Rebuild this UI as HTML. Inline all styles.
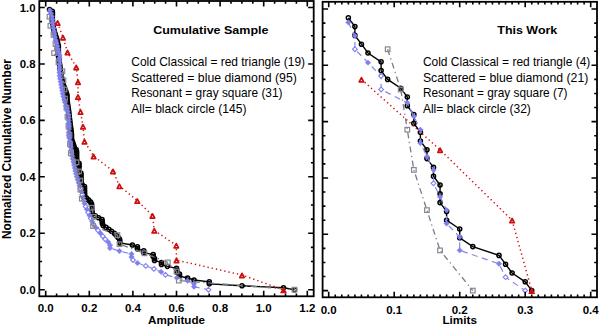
<!DOCTYPE html><html><head><meta charset="utf-8"><style>html,body{margin:0;padding:0;background:#fff;width:600px;height:328px;overflow:hidden}svg{display:block}</style></head><body><svg width="600" height="328" viewBox="0 0 600 328">
<style>.tl{font:bold 11.8px "Liberation Sans",sans-serif;fill:#000}.tt{font:bold 11.8px "Liberation Sans",sans-serif;fill:#000}.ax{font:bold 11.7px "Liberation Sans",sans-serif;fill:#000}.lg{font:13px "Liberation Sans",sans-serif;fill:#000}.df{fill:#8080f0;stroke:#7878ea;stroke-width:0.5}.do{fill:#fff;stroke:#8080ee;stroke-width:1.1}</style>
<rect width="600" height="328" fill="#fff"/>
<g>
<path d="M49.50 9.45L52.33 11.39L52.46 13.34L52.41 15.28L52.37 17.23L52.33 19.18L52.41 21.12L52.72 23.07L53.02 25.02L53.33 26.96L53.63 28.91L54.07 30.85L54.69 32.80L55.31 34.75L55.94 36.69L56.56 38.64L57.07 40.59L57.52 42.53L57.97 44.48L58.39 46.42L58.37 48.37L58.35 50.32L58.33 52.26L58.31 54.21L58.46 56.16L58.73 58.10L59.01 60.05L59.28 61.99L59.55 63.94L59.82 65.89L60.07 67.83L60.32 69.78L60.57 71.72L60.86 73.67L61.21 75.62L61.56 77.56L61.91 79.51L62.26 81.46L62.74 83.40L63.51 85.35L64.27 87.29L65.04 89.24L65.76 91.19L66.39 93.13L67.00 95.08L67.00 97.03L67.00 98.97L67.14 100.92L67.43 102.86L67.72 104.81L68.01 106.76L68.31 108.70L68.57 110.65L68.80 112.60L69.02 114.54L69.25 116.49L69.47 118.43L69.70 120.38L69.92 122.33L70.18 124.27L70.45 126.22L70.72 128.16L71.00 130.11L71.27 132.06L71.50 134.00L71.50 135.95L71.50 137.90L71.67 139.84L72.44 141.79L73.20 143.73L73.80 145.68L74.30 147.63L76.13 149.57L76.60 151.52L76.60 153.47L76.60 155.41L76.60 157.36L76.73 159.30L76.93 161.25L79.00 163.20L79.00 165.14L79.00 167.09L79.00 169.04L79.00 170.98L80.86 172.93L81.00 174.87L81.00 176.82L81.00 178.77L81.00 180.71L81.00 182.66L82.06 184.60L84.51 186.55L84.52 188.50L84.54 190.44L84.56 192.39L84.58 194.34L84.88 196.28L86.80 198.23L88.71 200.17L90.63 202.12L91.57 204.07L91.69 206.01L91.82 207.96L91.94 209.91L92.06 211.85L92.19 213.80L95.21 215.74L98.57 217.69L102.01 219.64L102.19 221.58L102.37 223.53L103.18 225.48L105.96 227.42L108.74 229.37L111.52 231.31L114.30 233.26L116.11 235.21L117.85 237.15L119.52 239.10L119.83 241.04L120.00 242.99L132.40 244.94L137.40 246.88L137.40 248.83L143.80 250.78L143.80 252.72L153.20 254.67L153.20 256.61L154.50 258.56L154.50 260.51L161.50 262.45L161.50 264.40L167.40 266.35L176.50 268.29L176.90 270.24L176.90 272.18L179.50 274.13L179.50 276.08L187.60 278.02L194.00 279.97L209.30 281.92L209.30 283.86L242.00 285.81L283.50 287.75L294.50 289.70" fill="none" stroke="#000" stroke-width="1.4"/>
<g fill="none" stroke="#000" stroke-width="1.5"><circle cx="49.50" cy="9.45" r="2.05"/><circle cx="52.33" cy="11.39" r="2.05"/><circle cx="52.46" cy="13.34" r="2.05"/><circle cx="52.41" cy="15.28" r="2.05"/><circle cx="52.37" cy="17.23" r="2.05"/><circle cx="52.33" cy="19.18" r="2.05"/><circle cx="52.41" cy="21.12" r="2.05"/><circle cx="52.72" cy="23.07" r="2.05"/><circle cx="53.02" cy="25.02" r="2.05"/><circle cx="53.33" cy="26.96" r="2.05"/><circle cx="53.63" cy="28.91" r="2.05"/><circle cx="54.07" cy="30.85" r="2.05"/><circle cx="54.69" cy="32.80" r="2.05"/><circle cx="55.31" cy="34.75" r="2.05"/><circle cx="55.94" cy="36.69" r="2.05"/><circle cx="56.56" cy="38.64" r="2.05"/><circle cx="57.07" cy="40.59" r="2.05"/><circle cx="57.52" cy="42.53" r="2.05"/><circle cx="57.97" cy="44.48" r="2.05"/><circle cx="58.39" cy="46.42" r="2.05"/><circle cx="58.37" cy="48.37" r="2.05"/><circle cx="58.35" cy="50.32" r="2.05"/><circle cx="58.33" cy="52.26" r="2.05"/><circle cx="58.31" cy="54.21" r="2.05"/><circle cx="58.46" cy="56.16" r="2.05"/><circle cx="58.73" cy="58.10" r="2.05"/><circle cx="59.01" cy="60.05" r="2.05"/><circle cx="59.28" cy="61.99" r="2.05"/><circle cx="59.55" cy="63.94" r="2.05"/><circle cx="59.82" cy="65.89" r="2.05"/><circle cx="60.07" cy="67.83" r="2.05"/><circle cx="60.32" cy="69.78" r="2.05"/><circle cx="60.57" cy="71.72" r="2.05"/><circle cx="60.86" cy="73.67" r="2.05"/><circle cx="61.21" cy="75.62" r="2.05"/><circle cx="61.56" cy="77.56" r="2.05"/><circle cx="61.91" cy="79.51" r="2.05"/><circle cx="62.26" cy="81.46" r="2.05"/><circle cx="62.74" cy="83.40" r="2.05"/><circle cx="63.51" cy="85.35" r="2.05"/><circle cx="64.27" cy="87.29" r="2.05"/><circle cx="65.04" cy="89.24" r="2.05"/><circle cx="65.76" cy="91.19" r="2.05"/><circle cx="66.39" cy="93.13" r="2.05"/><circle cx="67.00" cy="95.08" r="2.05"/><circle cx="67.00" cy="97.03" r="2.05"/><circle cx="67.00" cy="98.97" r="2.05"/><circle cx="67.14" cy="100.92" r="2.05"/><circle cx="67.43" cy="102.86" r="2.05"/><circle cx="67.72" cy="104.81" r="2.05"/><circle cx="68.01" cy="106.76" r="2.05"/><circle cx="68.31" cy="108.70" r="2.05"/><circle cx="68.57" cy="110.65" r="2.05"/><circle cx="68.80" cy="112.60" r="2.05"/><circle cx="69.02" cy="114.54" r="2.05"/><circle cx="69.25" cy="116.49" r="2.05"/><circle cx="69.47" cy="118.43" r="2.05"/><circle cx="69.70" cy="120.38" r="2.05"/><circle cx="69.92" cy="122.33" r="2.05"/><circle cx="70.18" cy="124.27" r="2.05"/><circle cx="70.45" cy="126.22" r="2.05"/><circle cx="70.72" cy="128.16" r="2.05"/><circle cx="71.00" cy="130.11" r="2.05"/><circle cx="71.27" cy="132.06" r="2.05"/><circle cx="71.50" cy="134.00" r="2.05"/><circle cx="71.50" cy="135.95" r="2.05"/><circle cx="71.50" cy="137.90" r="2.05"/><circle cx="71.67" cy="139.84" r="2.05"/><circle cx="72.44" cy="141.79" r="2.05"/><circle cx="73.20" cy="143.73" r="2.05"/><circle cx="73.80" cy="145.68" r="2.05"/><circle cx="74.30" cy="147.63" r="2.05"/><circle cx="76.13" cy="149.57" r="2.05"/><circle cx="76.60" cy="151.52" r="2.05"/><circle cx="76.60" cy="153.47" r="2.05"/><circle cx="76.60" cy="155.41" r="2.05"/><circle cx="76.60" cy="157.36" r="2.05"/><circle cx="76.73" cy="159.30" r="2.05"/><circle cx="76.93" cy="161.25" r="2.05"/><circle cx="79.00" cy="163.20" r="2.05"/><circle cx="79.00" cy="165.14" r="2.05"/><circle cx="79.00" cy="167.09" r="2.05"/><circle cx="79.00" cy="169.04" r="2.05"/><circle cx="79.00" cy="170.98" r="2.05"/><circle cx="80.86" cy="172.93" r="2.05"/><circle cx="81.00" cy="174.87" r="2.05"/><circle cx="81.00" cy="176.82" r="2.05"/><circle cx="81.00" cy="178.77" r="2.05"/><circle cx="81.00" cy="180.71" r="2.05"/><circle cx="81.00" cy="182.66" r="2.05"/><circle cx="82.06" cy="184.60" r="2.05"/><circle cx="84.51" cy="186.55" r="2.05"/><circle cx="84.52" cy="188.50" r="2.05"/><circle cx="84.54" cy="190.44" r="2.05"/><circle cx="84.56" cy="192.39" r="2.05"/><circle cx="84.58" cy="194.34" r="2.05"/><circle cx="84.88" cy="196.28" r="2.05"/><circle cx="86.80" cy="198.23" r="2.05"/><circle cx="88.71" cy="200.17" r="2.05"/><circle cx="90.63" cy="202.12" r="2.05"/><circle cx="91.57" cy="204.07" r="2.05"/><circle cx="91.69" cy="206.01" r="2.05"/><circle cx="91.82" cy="207.96" r="2.05"/><circle cx="91.94" cy="209.91" r="2.05"/><circle cx="92.06" cy="211.85" r="2.05"/><circle cx="92.19" cy="213.80" r="2.05"/><circle cx="95.21" cy="215.74" r="2.05"/><circle cx="98.57" cy="217.69" r="2.05"/><circle cx="102.01" cy="219.64" r="2.05"/><circle cx="102.19" cy="221.58" r="2.05"/><circle cx="102.37" cy="223.53" r="2.05"/><circle cx="103.18" cy="225.48" r="2.05"/><circle cx="105.96" cy="227.42" r="2.05"/><circle cx="108.74" cy="229.37" r="2.05"/><circle cx="111.52" cy="231.31" r="2.05"/><circle cx="114.30" cy="233.26" r="2.05"/><circle cx="116.11" cy="235.21" r="2.05"/><circle cx="117.85" cy="237.15" r="2.05"/><circle cx="119.52" cy="239.10" r="2.05"/><circle cx="119.83" cy="241.04" r="2.05"/><circle cx="120.00" cy="242.99" r="2.05"/><circle cx="132.40" cy="244.94" r="2.05"/><circle cx="137.40" cy="246.88" r="2.05"/><circle cx="137.40" cy="248.83" r="2.05"/><circle cx="143.80" cy="250.78" r="2.05"/><circle cx="143.80" cy="252.72" r="2.05"/><circle cx="153.20" cy="254.67" r="2.05"/><circle cx="153.20" cy="256.61" r="2.05"/><circle cx="154.50" cy="258.56" r="2.05"/><circle cx="154.50" cy="260.51" r="2.05"/><circle cx="161.50" cy="262.45" r="2.05"/><circle cx="161.50" cy="264.40" r="2.05"/><circle cx="167.40" cy="266.35" r="2.05"/><circle cx="176.50" cy="268.29" r="2.05"/><circle cx="176.90" cy="270.24" r="2.05"/><circle cx="176.90" cy="272.18" r="2.05"/><circle cx="179.50" cy="274.13" r="2.05"/><circle cx="179.50" cy="276.08" r="2.05"/><circle cx="187.60" cy="278.02" r="2.05"/><circle cx="194.00" cy="279.97" r="2.05"/><circle cx="209.30" cy="281.92" r="2.05"/><circle cx="209.30" cy="283.86" r="2.05"/><circle cx="242.00" cy="285.81" r="2.05"/><circle cx="283.50" cy="287.75" r="2.05"/><circle cx="294.50" cy="289.70" r="2.05"/></g>
<g fill="none" stroke="#878794" stroke-width="1.2"><rect x="47.20" y="14.40" width="4.60" height="4.60"/><rect x="48.10" y="23.50" width="4.60" height="4.60"/><rect x="51.20" y="32.60" width="4.60" height="4.60"/><rect x="53.20" y="41.70" width="4.60" height="4.60"/><rect x="51.80" y="50.80" width="4.60" height="4.60"/><rect x="56.20" y="59.90" width="4.60" height="4.60"/><rect x="60.10" y="69.00" width="4.60" height="4.60"/><rect x="61.20" y="78.10" width="4.60" height="4.60"/><rect x="62.20" y="87.20" width="4.60" height="4.60"/><rect x="62.70" y="96.30" width="4.60" height="4.60"/><rect x="64.20" y="105.40" width="4.60" height="4.60"/><rect x="65.20" y="114.50" width="4.60" height="4.60"/><rect x="66.20" y="123.60" width="4.60" height="4.60"/><rect x="67.20" y="132.70" width="4.60" height="4.60"/><rect x="67.70" y="141.80" width="4.60" height="4.60"/></g>
<path d="M50.00 10.47L51.07 13.44L52.05 16.41L52.43 19.38L52.80 22.35L53.18 25.32L53.55 28.29L53.93 31.26L54.30 34.23L54.96 37.21L55.72 40.18L56.48 43.15L57.23 46.12L57.99 49.09L58.75 52.06L59.50 55.03L59.50 58.00L59.50 60.97L59.50 63.94L59.50 66.91L59.50 69.88L59.50 72.85L59.64 75.82L60.16 78.79L60.68 81.76L61.20 84.73L61.72 87.70L62.24 90.67L62.76 93.65L63.44 96.62L64.26 99.59L65.08 102.56L65.90 105.53L66.71 108.50L67.53 111.47L68.35 114.44L68.56 117.41L68.63 120.38L68.71 123.35L68.78 126.32L68.86 129.29L68.93 132.26L69.03 135.23L69.48 138.20L69.93 141.17L70.37 144.14L70.82 147.11L71.26 150.09L71.71 153.06L72.22 156.03L72.86 159.00L73.50 161.97L74.14 164.94L74.78 167.91L75.41 170.88L76.05 173.85L76.86 176.82L77.79 179.79L78.71 182.76L79.63 185.73L80.55 188.70L81.47 191.67L82.27 194.64L83.05 197.61L83.83 200.58L84.62 203.55L85.66 206.53L86.96 209.50L88.25 212.47L89.54 215.44L90.83 218.41L92.12 221.38L93.42 224.35L95.58 227.32L97.99 230.29L100.40 233.26L102.82 236.23L105.23 239.20L108.31 242.17L110.00 245.14L110.00 248.11L119.50 251.08L131.50 254.05L131.50 257.02L133.00 259.99L137.40 262.97L145.80 265.94L154.00 268.91L161.10 271.88L165.40 274.85L176.80 277.82L187.60 280.79L194.00 283.76L194.00 286.73L208.50 289.70" fill="none" stroke="#8686f0" stroke-width="1.2" stroke-dasharray="6 4.5"/>
<g><path d="M50.00 7.77L52.70 10.47L50.00 13.17L47.30 10.47Z" class="df"/><path d="M51.07 10.74L53.77 13.44L51.07 16.14L48.37 13.44Z" class="df"/><path d="M52.05 13.71L54.75 16.41L52.05 19.11L49.35 16.41Z" class="df"/><path d="M52.43 16.68L55.13 19.38L52.43 22.08L49.73 19.38Z" class="df"/><path d="M52.80 19.65L55.50 22.35L52.80 25.05L50.10 22.35Z" class="df"/><path d="M53.18 22.62L55.88 25.32L53.18 28.02L50.48 25.32Z" class="df"/><path d="M53.55 25.59L56.25 28.29L53.55 30.99L50.85 28.29Z" class="df"/><path d="M53.93 28.56L56.63 31.26L53.93 33.96L51.23 31.26Z" class="df"/><path d="M54.30 31.53L57.00 34.23L54.30 36.93L51.60 34.23Z" class="df"/><path d="M54.96 34.51L57.66 37.21L54.96 39.91L52.26 37.21Z" class="df"/><path d="M55.72 37.48L58.42 40.18L55.72 42.88L53.02 40.18Z" class="df"/><path d="M56.48 40.45L59.18 43.15L56.48 45.85L53.78 43.15Z" class="df"/><path d="M57.23 43.42L59.93 46.12L57.23 48.82L54.53 46.12Z" class="df"/><path d="M57.99 46.39L60.69 49.09L57.99 51.79L55.29 49.09Z" class="df"/><path d="M58.75 49.36L61.45 52.06L58.75 54.76L56.05 52.06Z" class="df"/><path d="M59.50 52.33L62.20 55.03L59.50 57.73L56.80 55.03Z" class="df"/><path d="M59.50 55.30L62.20 58.00L59.50 60.70L56.80 58.00Z" class="df"/><path d="M59.50 58.27L62.20 60.97L59.50 63.67L56.80 60.97Z" class="df"/><path d="M59.50 61.24L62.20 63.94L59.50 66.64L56.80 63.94Z" class="df"/><path d="M59.50 64.21L62.20 66.91L59.50 69.61L56.80 66.91Z" class="df"/><path d="M59.50 67.18L62.20 69.88L59.50 72.58L56.80 69.88Z" class="df"/><path d="M59.50 70.15L62.20 72.85L59.50 75.55L56.80 72.85Z" class="df"/><path d="M59.64 73.12L62.34 75.82L59.64 78.52L56.94 75.82Z" class="df"/><path d="M60.16 76.09L62.86 78.79L60.16 81.49L57.46 78.79Z" class="df"/><path d="M60.68 79.06L63.38 81.76L60.68 84.46L57.98 81.76Z" class="df"/><path d="M61.20 82.03L63.90 84.73L61.20 87.43L58.50 84.73Z" class="df"/><path d="M61.72 85.00L64.42 87.70L61.72 90.40L59.02 87.70Z" class="df"/><path d="M62.24 87.97L64.94 90.67L62.24 93.37L59.54 90.67Z" class="df"/><path d="M62.76 90.95L65.46 93.65L62.76 96.35L60.06 93.65Z" class="df"/><path d="M63.44 93.92L66.14 96.62L63.44 99.32L60.74 96.62Z" class="df"/><path d="M64.26 96.89L66.96 99.59L64.26 102.29L61.56 99.59Z" class="df"/><path d="M65.08 99.86L67.78 102.56L65.08 105.26L62.38 102.56Z" class="df"/><path d="M65.90 102.83L68.60 105.53L65.90 108.23L63.20 105.53Z" class="df"/><path d="M66.71 105.80L69.41 108.50L66.71 111.20L64.01 108.50Z" class="df"/><path d="M67.53 108.77L70.23 111.47L67.53 114.17L64.83 111.47Z" class="df"/><path d="M68.35 111.74L71.05 114.44L68.35 117.14L65.65 114.44Z" class="df"/><path d="M68.56 114.71L71.26 117.41L68.56 120.11L65.86 117.41Z" class="df"/><path d="M68.63 117.68L71.33 120.38L68.63 123.08L65.93 120.38Z" class="df"/><path d="M68.71 120.65L71.41 123.35L68.71 126.05L66.01 123.35Z" class="df"/><path d="M68.78 123.62L71.48 126.32L68.78 129.02L66.08 126.32Z" class="df"/><path d="M68.86 126.59L71.56 129.29L68.86 131.99L66.16 129.29Z" class="df"/><path d="M68.93 129.56L71.63 132.26L68.93 134.96L66.23 132.26Z" class="df"/><path d="M69.03 132.53L71.73 135.23L69.03 137.93L66.33 135.23Z" class="df"/><path d="M69.48 135.50L72.18 138.20L69.48 140.90L66.78 138.20Z" class="df"/><path d="M69.93 138.47L72.63 141.17L69.93 143.87L67.23 141.17Z" class="df"/><path d="M70.37 141.44L73.07 144.14L70.37 146.84L67.67 144.14Z" class="df"/><path d="M70.82 144.41L73.52 147.11L70.82 149.81L68.12 147.11Z" class="df"/><path d="M71.26 147.39L73.96 150.09L71.26 152.79L68.56 150.09Z" class="df"/><path d="M71.71 150.36L74.41 153.06L71.71 155.76L69.01 153.06Z" class="df"/><path d="M72.22 153.33L74.92 156.03L72.22 158.73L69.52 156.03Z" class="df"/><path d="M72.86 156.30L75.56 159.00L72.86 161.70L70.16 159.00Z" class="df"/><path d="M73.50 159.27L76.20 161.97L73.50 164.67L70.80 161.97Z" class="df"/><path d="M74.14 162.24L76.84 164.94L74.14 167.64L71.44 164.94Z" class="df"/><path d="M74.78 165.21L77.48 167.91L74.78 170.61L72.08 167.91Z" class="df"/><path d="M75.41 168.18L78.11 170.88L75.41 173.58L72.71 170.88Z" class="df"/><path d="M76.05 171.15L78.75 173.85L76.05 176.55L73.35 173.85Z" class="df"/><path d="M76.86 174.12L79.56 176.82L76.86 179.52L74.16 176.82Z" class="df"/><path d="M77.79 177.09L80.49 179.79L77.79 182.49L75.09 179.79Z" class="df"/><path d="M78.71 180.06L81.41 182.76L78.71 185.46L76.01 182.76Z" class="df"/><path d="M79.63 183.03L82.33 185.73L79.63 188.43L76.93 185.73Z" class="df"/><path d="M80.55 186.30L82.95 188.70L80.55 191.10L78.15 188.70Z" class="do"/><path d="M81.47 188.97L84.17 191.67L81.47 194.37L78.77 191.67Z" class="df"/><path d="M82.27 192.24L84.67 194.64L82.27 197.04L79.87 194.64Z" class="do"/><path d="M83.05 194.91L85.75 197.61L83.05 200.31L80.35 197.61Z" class="df"/><path d="M83.83 198.18L86.23 200.58L83.83 202.98L81.43 200.58Z" class="do"/><path d="M84.62 200.85L87.32 203.55L84.62 206.25L81.92 203.55Z" class="df"/><path d="M85.66 204.13L88.06 206.53L85.66 208.93L83.26 206.53Z" class="do"/><path d="M86.96 206.80L89.66 209.50L86.96 212.20L84.26 209.50Z" class="df"/><path d="M88.25 210.07L90.65 212.47L88.25 214.87L85.85 212.47Z" class="do"/><path d="M89.54 212.74L92.24 215.44L89.54 218.14L86.84 215.44Z" class="df"/><path d="M90.83 216.01L93.23 218.41L90.83 220.81L88.43 218.41Z" class="do"/><path d="M92.12 218.68L94.82 221.38L92.12 224.08L89.42 221.38Z" class="df"/><path d="M93.42 221.95L95.82 224.35L93.42 226.75L91.02 224.35Z" class="do"/><path d="M95.58 224.62L98.28 227.32L95.58 230.02L92.88 227.32Z" class="df"/><path d="M97.99 227.89L100.39 230.29L97.99 232.69L95.59 230.29Z" class="do"/><path d="M100.40 230.56L103.10 233.26L100.40 235.96L97.70 233.26Z" class="df"/><path d="M102.82 233.83L105.22 236.23L102.82 238.63L100.42 236.23Z" class="do"/><path d="M105.23 236.80L107.63 239.20L105.23 241.60L102.83 239.20Z" class="do"/><path d="M108.31 239.47L111.01 242.17L108.31 244.87L105.61 242.17Z" class="df"/><path d="M110.00 242.44L112.70 245.14L110.00 247.84L107.30 245.14Z" class="df"/><path d="M110.00 245.41L112.70 248.11L110.00 250.81L107.30 248.11Z" class="df"/><path d="M119.50 248.38L122.20 251.08L119.50 253.78L116.80 251.08Z" class="df"/><path d="M131.50 251.35L134.20 254.05L131.50 256.75L128.80 254.05Z" class="df"/><path d="M131.50 254.32L134.20 257.02L131.50 259.72L128.80 257.02Z" class="df"/><path d="M133.00 257.59L135.40 259.99L133.00 262.39L130.60 259.99Z" class="do"/><path d="M137.40 260.27L140.10 262.97L137.40 265.67L134.70 262.97Z" class="df"/><path d="M145.80 263.54L148.20 265.94L145.80 268.34L143.40 265.94Z" class="do"/><path d="M154.00 266.51L156.40 268.91L154.00 271.31L151.60 268.91Z" class="do"/><path d="M161.10 269.18L163.80 271.88L161.10 274.58L158.40 271.88Z" class="df"/><path d="M165.40 272.45L167.80 274.85L165.40 277.25L163.00 274.85Z" class="do"/><path d="M176.80 275.12L179.50 277.82L176.80 280.52L174.10 277.82Z" class="df"/><path d="M187.60 278.09L190.30 280.79L187.60 283.49L184.90 280.79Z" class="df"/><path d="M194.00 281.06L196.70 283.76L194.00 286.46L191.30 283.76Z" class="df"/><path d="M194.00 284.03L196.70 286.73L194.00 289.43L191.30 286.73Z" class="df"/><path d="M208.50 287.30L210.90 289.70L208.50 292.10L206.10 289.70Z" class="do"/></g>
<path d="M49.50 16.70L50.40 25.80L53.50 34.90L55.50 44.00L54.10 53.10L58.50 62.20L62.40 71.30L63.50 80.40L64.50 89.50L65.00 98.60L66.50 107.70L67.50 116.80L68.50 125.90L69.50 135.00L70.00 144.10L70.80 153.20L76.50 162.30L79.00 171.40L80.00 180.50L80.40 189.60L81.80 198.70L91.80 207.80L93.80 216.90L93.10 226.00L117.40 235.10L119.50 244.20L144.50 253.30L167.80 262.40L176.50 271.50L178.80 280.60L294.50 289.70" fill="none" stroke="#7c7c88" stroke-width="1.3" stroke-dasharray="6 3.5 1.3 3.5"/>
<g fill="none" stroke="#878794" stroke-width="1.2"><rect x="68.50" y="150.90" width="4.60" height="4.60"/><rect x="74.20" y="160.00" width="4.60" height="4.60"/><rect x="76.70" y="169.10" width="4.60" height="4.60"/><rect x="77.70" y="178.20" width="4.60" height="4.60"/><rect x="78.10" y="187.30" width="4.60" height="4.60"/><rect x="79.50" y="196.40" width="4.60" height="4.60"/><rect x="89.50" y="205.50" width="4.60" height="4.60"/><rect x="91.50" y="214.60" width="4.60" height="4.60"/><rect x="90.80" y="223.70" width="4.60" height="4.60"/><rect x="115.10" y="232.80" width="4.60" height="4.60"/><rect x="117.20" y="241.90" width="4.60" height="4.60"/><rect x="142.20" y="251.00" width="4.60" height="4.60"/><rect x="165.50" y="260.10" width="4.60" height="4.60"/><rect x="174.20" y="269.20" width="4.60" height="4.60"/><rect x="176.50" y="278.30" width="4.60" height="4.60"/><rect x="292.20" y="287.40" width="4.60" height="4.60"/></g>
<path d="M57.60 22.60L63.00 37.30L67.50 52.10L76.20 67.00L78.00 81.80L78.00 96.70L80.50 111.60L83.00 126.40L84.50 141.30L93.60 156.10L113.00 171.00L119.40 185.80L137.30 200.70L152.50 215.50L154.30 230.40L176.30 245.30L176.50 260.10L242.00 275.00L283.50 289.90" fill="none" stroke="#d01010" stroke-width="1.5" stroke-dasharray="1.3 3" />
<g fill="#fff" stroke="#cc1010" stroke-width="1.75" stroke-linejoin="round"><path d="M57.60 20.90L59.80 25.10L55.40 25.10Z"/><path d="M63.00 35.60L65.20 39.80L60.80 39.80Z"/><path d="M67.50 50.40L69.70 54.60L65.30 54.60Z"/><path d="M76.20 65.30L78.40 69.50L74.00 69.50Z"/><path d="M78.00 80.10L80.20 84.30L75.80 84.30Z"/><path d="M78.00 95.00L80.20 99.20L75.80 99.20Z"/><path d="M80.50 109.90L82.70 114.10L78.30 114.10Z"/><path d="M83.00 124.70L85.20 128.90L80.80 128.90Z"/><path d="M84.50 139.60L86.70 143.80L82.30 143.80Z"/><path d="M93.60 154.40L95.80 158.60L91.40 158.60Z"/><path d="M113.00 169.30L115.20 173.50L110.80 173.50Z"/><path d="M119.40 184.10L121.60 188.30L117.20 188.30Z"/><path d="M137.30 199.00L139.50 203.20L135.10 203.20Z"/><path d="M152.50 213.80L154.70 218.00L150.30 218.00Z"/><path d="M154.30 228.70L156.50 232.90L152.10 232.90Z"/><path d="M176.30 243.60L178.50 247.80L174.10 247.80Z"/><path d="M176.50 258.40L178.70 262.60L174.30 262.60Z"/><path d="M242.00 273.30L244.20 277.50L239.80 277.50Z"/></g>
<g fill="#d01010" stroke="#cc1010" stroke-width="1.6"><path d="M283.50 288.20L285.70 292.40L281.30 292.40Z"/></g>
</g>
<path d="M348.35 17.80L354.90 26.60L354.90 35.40L361.45 44.20L368.00 53.00L381.10 61.80L381.10 70.60L387.65 79.40L400.75 88.20L407.30 97.00L407.30 105.80L413.85 114.60L413.85 123.40L420.40 132.20L420.40 141.00L426.95 149.80L426.95 158.60L433.50 167.40L433.50 176.20L440.05 185.00L440.05 193.80L440.05 202.60L446.60 211.40L446.60 220.20L459.70 229.00L459.70 237.80L472.80 246.60L499.00 255.40L505.55 264.20L512.10 273.00L525.20 281.80L531.75 290.60" fill="none" stroke="#000" stroke-width="1.4"/>
<g fill="none" stroke="#000" stroke-width="1.5"><circle cx="348.35" cy="17.80" r="2.05"/><circle cx="354.90" cy="26.60" r="2.05"/><circle cx="354.90" cy="35.40" r="2.05"/><circle cx="361.45" cy="44.20" r="2.05"/><circle cx="368.00" cy="53.00" r="2.05"/><circle cx="381.10" cy="61.80" r="2.05"/><circle cx="381.10" cy="70.60" r="2.05"/><circle cx="387.65" cy="79.40" r="2.05"/><circle cx="400.75" cy="88.20" r="2.05"/><circle cx="407.30" cy="97.00" r="2.05"/><circle cx="407.30" cy="105.80" r="2.05"/><circle cx="413.85" cy="114.60" r="2.05"/><circle cx="413.85" cy="123.40" r="2.05"/><circle cx="420.40" cy="132.20" r="2.05"/><circle cx="420.40" cy="141.00" r="2.05"/><circle cx="426.95" cy="149.80" r="2.05"/><circle cx="426.95" cy="158.60" r="2.05"/><circle cx="433.50" cy="167.40" r="2.05"/><circle cx="433.50" cy="176.20" r="2.05"/><circle cx="440.05" cy="185.00" r="2.05"/><circle cx="440.05" cy="193.80" r="2.05"/><circle cx="440.05" cy="202.60" r="2.05"/><circle cx="446.60" cy="211.40" r="2.05"/><circle cx="446.60" cy="220.20" r="2.05"/><circle cx="459.70" cy="229.00" r="2.05"/><circle cx="459.70" cy="237.80" r="2.05"/><circle cx="472.80" cy="246.60" r="2.05"/><circle cx="499.00" cy="255.40" r="2.05"/><circle cx="505.55" cy="264.20" r="2.05"/><circle cx="512.10" cy="273.00" r="2.05"/><circle cx="525.20" cy="281.80" r="2.05"/><circle cx="531.75" cy="290.60" r="2.05"/></g>
<g fill="none" stroke="#878794" stroke-width="1.2"></g>
<path d="M348.35 22.41L354.90 35.82L354.90 49.23L368.00 62.64L381.10 76.05L381.10 89.46L407.30 102.87L413.85 116.28L420.40 129.69L420.40 143.10L426.95 156.50L433.50 169.91L433.50 183.32L440.05 196.73L446.60 210.14L446.60 223.55L459.70 236.96L459.70 250.37L499.00 263.78L505.55 277.19L525.20 290.60" fill="none" stroke="#8686f0" stroke-width="1.2" stroke-dasharray="6 4.5"/>
<g><path d="M348.35 19.71L351.05 22.41L348.35 25.11L345.65 22.41Z" class="df"/><path d="M354.90 33.12L357.60 35.82L354.90 38.52L352.20 35.82Z" class="df"/><path d="M354.90 46.83L357.30 49.23L354.90 51.63L352.50 49.23Z" class="do"/><path d="M368.00 59.94L370.70 62.64L368.00 65.34L365.30 62.64Z" class="df"/><path d="M381.10 73.65L383.50 76.05L381.10 78.45L378.70 76.05Z" class="do"/><path d="M381.10 87.06L383.50 89.46L381.10 91.86L378.70 89.46Z" class="do"/><path d="M407.30 100.17L410.00 102.87L407.30 105.57L404.60 102.87Z" class="df"/><path d="M413.85 113.58L416.55 116.28L413.85 118.98L411.15 116.28Z" class="df"/><path d="M420.40 126.99L423.10 129.69L420.40 132.39L417.70 129.69Z" class="df"/><path d="M420.40 140.40L423.10 143.10L420.40 145.80L417.70 143.10Z" class="df"/><path d="M426.95 153.80L429.65 156.50L426.95 159.20L424.25 156.50Z" class="df"/><path d="M433.50 167.21L436.20 169.91L433.50 172.61L430.80 169.91Z" class="df"/><path d="M433.50 180.92L435.90 183.32L433.50 185.72L431.10 183.32Z" class="do"/><path d="M440.05 194.03L442.75 196.73L440.05 199.43L437.35 196.73Z" class="df"/><path d="M446.60 207.44L449.30 210.14L446.60 212.84L443.90 210.14Z" class="df"/><path d="M446.60 220.85L449.30 223.55L446.60 226.25L443.90 223.55Z" class="df"/><path d="M459.70 234.26L462.40 236.96L459.70 239.66L457.00 236.96Z" class="df"/><path d="M459.70 247.67L462.40 250.37L459.70 253.07L457.00 250.37Z" class="df"/><path d="M499.00 261.08L501.70 263.78L499.00 266.48L496.30 263.78Z" class="df"/><path d="M505.55 274.79L507.95 277.19L505.55 279.59L503.15 277.19Z" class="do"/><path d="M525.20 288.20L527.60 290.60L525.20 293.00L522.80 290.60Z" class="do"/></g>
<path d="M387.65 49.23L400.75 89.46L407.30 129.69L413.85 169.91L426.95 210.14L440.05 250.37L472.80 290.60" fill="none" stroke="#7c7c88" stroke-width="1.3" stroke-dasharray="6 3.5 1.3 3.5"/>
<g fill="none" stroke="#878794" stroke-width="1.2"><rect x="385.35" y="46.93" width="4.60" height="4.60"/><rect x="398.45" y="87.16" width="4.60" height="4.60"/><rect x="405.00" y="127.39" width="4.60" height="4.60"/><rect x="411.55" y="167.61" width="4.60" height="4.60"/><rect x="424.65" y="207.84" width="4.60" height="4.60"/><rect x="437.75" y="248.07" width="4.60" height="4.60"/><rect x="470.50" y="288.30" width="4.60" height="4.60"/></g>
<path d="M361.45 79.40L440.05 149.80L512.10 220.20L531.75 290.60" fill="none" stroke="#d01010" stroke-width="1.5" stroke-dasharray="1.3 3" />
<g fill="#fff" stroke="#cc1010" stroke-width="1.75" stroke-linejoin="round"><path d="M361.45 77.70L363.65 81.90L359.25 81.90Z"/><path d="M440.05 148.10L442.25 152.30L437.85 152.30Z"/><path d="M512.10 218.50L514.30 222.70L509.90 222.70Z"/></g>
<g fill="#d01010" stroke="#cc1010" stroke-width="1.6"><path d="M531.75 288.90L533.95 293.10L529.55 293.10Z"/></g>
<rect x="39.30" y="1.00" width="274.40" height="295.30" fill="none" stroke="#000" stroke-width="1.8"/>
<path d="M45.70 296.30V290.80M45.70 1.00V6.50M56.60 296.30V293.50M56.60 1.00V3.80M67.50 296.30V293.50M67.50 1.00V3.80M78.40 296.30V293.50M78.40 1.00V3.80M89.30 296.30V290.80M89.30 1.00V6.50M100.20 296.30V293.50M100.20 1.00V3.80M111.10 296.30V293.50M111.10 1.00V3.80M122.00 296.30V293.50M122.00 1.00V3.80M132.90 296.30V290.80M132.90 1.00V6.50M143.80 296.30V293.50M143.80 1.00V3.80M154.70 296.30V293.50M154.70 1.00V3.80M165.60 296.30V293.50M165.60 1.00V3.80M176.50 296.30V290.80M176.50 1.00V6.50M187.40 296.30V293.50M187.40 1.00V3.80M198.30 296.30V293.50M198.30 1.00V3.80M209.20 296.30V293.50M209.20 1.00V3.80M220.10 296.30V290.80M220.10 1.00V6.50M231.00 296.30V293.50M231.00 1.00V3.80M241.90 296.30V293.50M241.90 1.00V3.80M252.80 296.30V293.50M252.80 1.00V3.80M263.70 296.30V290.80M263.70 1.00V6.50M274.60 296.30V293.50M274.60 1.00V3.80M285.50 296.30V293.50M285.50 1.00V3.80M296.40 296.30V293.50M296.40 1.00V3.80M307.30 296.30V290.80M307.30 1.00V6.50M39.30 289.70H44.80M313.70 289.70H308.20M39.30 275.59H42.10M313.70 275.59H310.90M39.30 261.48H42.10M313.70 261.48H310.90M39.30 247.37H42.10M313.70 247.37H310.90M39.30 233.26H44.80M313.70 233.26H308.20M39.30 219.15H42.10M313.70 219.15H310.90M39.30 205.04H42.10M313.70 205.04H310.90M39.30 190.93H42.10M313.70 190.93H310.90M39.30 176.82H44.80M313.70 176.82H308.20M39.30 162.71H42.10M313.70 162.71H310.90M39.30 148.60H42.10M313.70 148.60H310.90M39.30 134.49H42.10M313.70 134.49H310.90M39.30 120.38H44.80M313.70 120.38H308.20M39.30 106.27H42.10M313.70 106.27H310.90M39.30 92.16H42.10M313.70 92.16H310.90M39.30 78.05H42.10M313.70 78.05H310.90M39.30 63.94H44.80M313.70 63.94H308.20M39.30 49.83H42.10M313.70 49.83H310.90M39.30 35.72H42.10M313.70 35.72H310.90M39.30 21.61H42.10M313.70 21.61H310.90M39.30 7.50H44.80M313.70 7.50H308.20" stroke="#000" stroke-width="1.6" fill="none"/>
<text x="37.70" y="311.70" class="tl" textLength="16" lengthAdjust="spacingAndGlyphs">0.0</text>
<text x="81.30" y="311.70" class="tl" textLength="16" lengthAdjust="spacingAndGlyphs">0.2</text>
<text x="124.90" y="311.70" class="tl" textLength="16" lengthAdjust="spacingAndGlyphs">0.4</text>
<text x="168.50" y="311.70" class="tl" textLength="16" lengthAdjust="spacingAndGlyphs">0.6</text>
<text x="212.10" y="311.70" class="tl" textLength="16" lengthAdjust="spacingAndGlyphs">0.8</text>
<text x="255.70" y="311.70" class="tl" textLength="16" lengthAdjust="spacingAndGlyphs">1.0</text>
<text x="299.30" y="311.70" class="tl" textLength="16" lengthAdjust="spacingAndGlyphs">1.2</text>
<text x="19.8" y="293.80" class="tl" textLength="15.8" lengthAdjust="spacingAndGlyphs">0.0</text>
<text x="19.8" y="237.36" class="tl" textLength="15.8" lengthAdjust="spacingAndGlyphs">0.2</text>
<text x="19.8" y="180.92" class="tl" textLength="15.8" lengthAdjust="spacingAndGlyphs">0.4</text>
<text x="19.8" y="124.48" class="tl" textLength="15.8" lengthAdjust="spacingAndGlyphs">0.6</text>
<text x="19.8" y="68.04" class="tl" textLength="15.8" lengthAdjust="spacingAndGlyphs">0.8</text>
<text x="19.8" y="11.60" class="tl" textLength="15.8" lengthAdjust="spacingAndGlyphs">1.0</text>
<rect x="322.60" y="1.80" width="274.40" height="295.50" fill="none" stroke="#000" stroke-width="1.8"/>
<path d="M328.70 297.30V291.80M328.70 1.80V7.30M335.25 297.30V294.50M335.25 1.80V4.60M341.80 297.30V294.50M341.80 1.80V4.60M348.35 297.30V294.50M348.35 1.80V4.60M354.90 297.30V294.50M354.90 1.80V4.60M361.45 297.30V294.50M361.45 1.80V4.60M368.00 297.30V294.50M368.00 1.80V4.60M374.55 297.30V294.50M374.55 1.80V4.60M381.10 297.30V294.50M381.10 1.80V4.60M387.65 297.30V294.50M387.65 1.80V4.60M394.20 297.30V291.80M394.20 1.80V7.30M400.75 297.30V294.50M400.75 1.80V4.60M407.30 297.30V294.50M407.30 1.80V4.60M413.85 297.30V294.50M413.85 1.80V4.60M420.40 297.30V294.50M420.40 1.80V4.60M426.95 297.30V294.50M426.95 1.80V4.60M433.50 297.30V294.50M433.50 1.80V4.60M440.05 297.30V294.50M440.05 1.80V4.60M446.60 297.30V294.50M446.60 1.80V4.60M453.15 297.30V294.50M453.15 1.80V4.60M459.70 297.30V291.80M459.70 1.80V7.30M466.25 297.30V294.50M466.25 1.80V4.60M472.80 297.30V294.50M472.80 1.80V4.60M479.35 297.30V294.50M479.35 1.80V4.60M485.90 297.30V294.50M485.90 1.80V4.60M492.45 297.30V294.50M492.45 1.80V4.60M499.00 297.30V294.50M499.00 1.80V4.60M505.55 297.30V294.50M505.55 1.80V4.60M512.10 297.30V294.50M512.10 1.80V4.60M518.65 297.30V294.50M518.65 1.80V4.60M525.20 297.30V291.80M525.20 1.80V7.30M531.75 297.30V294.50M531.75 1.80V4.60M538.30 297.30V294.50M538.30 1.80V4.60M544.85 297.30V294.50M544.85 1.80V4.60M551.40 297.30V294.50M551.40 1.80V4.60M557.95 297.30V294.50M557.95 1.80V4.60M564.50 297.30V294.50M564.50 1.80V4.60M571.05 297.30V294.50M571.05 1.80V4.60M577.60 297.30V294.50M577.60 1.80V4.60M584.15 297.30V294.50M584.15 1.80V4.60M590.70 297.30V291.80M590.70 1.80V7.30M322.60 290.60H328.10M597.00 290.60H591.50M322.60 276.52H325.40M597.00 276.52H594.20M322.60 262.44H325.40M597.00 262.44H594.20M322.60 248.36H325.40M597.00 248.36H594.20M322.60 234.28H328.10M597.00 234.28H591.50M322.60 220.20H325.40M597.00 220.20H594.20M322.60 206.12H325.40M597.00 206.12H594.20M322.60 192.04H325.40M597.00 192.04H594.20M322.60 177.96H328.10M597.00 177.96H591.50M322.60 163.88H325.40M597.00 163.88H594.20M322.60 149.80H325.40M597.00 149.80H594.20M322.60 135.72H325.40M597.00 135.72H594.20M322.60 121.64H328.10M597.00 121.64H591.50M322.60 107.56H325.40M597.00 107.56H594.20M322.60 93.48H325.40M597.00 93.48H594.20M322.60 79.40H325.40M597.00 79.40H594.20M322.60 65.32H328.10M597.00 65.32H591.50M322.60 51.24H325.40M597.00 51.24H594.20M322.60 37.16H325.40M597.00 37.16H594.20M322.60 23.08H325.40M597.00 23.08H594.20M322.60 9.00H328.10M597.00 9.00H591.50" stroke="#000" stroke-width="1.6" fill="none"/>
<text x="320.70" y="313.80" class="tl" textLength="16" lengthAdjust="spacingAndGlyphs">0.0</text>
<text x="386.20" y="313.80" class="tl" textLength="16" lengthAdjust="spacingAndGlyphs">0.1</text>
<text x="451.70" y="313.80" class="tl" textLength="16" lengthAdjust="spacingAndGlyphs">0.2</text>
<text x="517.20" y="313.80" class="tl" textLength="16" lengthAdjust="spacingAndGlyphs">0.3</text>
<text x="582.70" y="313.80" class="tl" textLength="16" lengthAdjust="spacingAndGlyphs">0.4</text>
<text x="153.2" y="34.4" class="tt" textLength="115.3" lengthAdjust="spacingAndGlyphs">Cumulative Sample</text>
<text x="131.3" y="66.3" class="lg" textLength="173.8" lengthAdjust="spacingAndGlyphs">Cold Classical = red triangle (19)</text>
<text x="131.3" y="81.8" class="lg" textLength="165.5" lengthAdjust="spacingAndGlyphs">Scattered = blue diamond (95)</text>
<text x="131.3" y="97.3" class="lg" textLength="151.2" lengthAdjust="spacingAndGlyphs">Resonant = gray square (31)</text>
<text x="131.3" y="112.8" class="lg" textLength="115.2" lengthAdjust="spacingAndGlyphs">All= black circle (145)</text>
<text x="497.3" y="33.8" class="tt" textLength="60" lengthAdjust="spacingAndGlyphs">This Work</text>
<text x="422.9" y="66.1" class="lg" textLength="167.4" lengthAdjust="spacingAndGlyphs">Cold Classical = red triangle (4)</text>
<text x="422.9" y="81.6" class="lg" textLength="165.4" lengthAdjust="spacingAndGlyphs">Scattered = blue diamond (21)</text>
<text x="422.9" y="97.1" class="lg" textLength="144.6" lengthAdjust="spacingAndGlyphs">Resonant = gray square (7)</text>
<text x="422.9" y="112.6" class="lg" textLength="108" lengthAdjust="spacingAndGlyphs">All= black circle (32)</text>
<text x="148.1" y="323.8" class="ax" textLength="56.9" lengthAdjust="spacingAndGlyphs">Amplitude</text>
<text x="442.4" y="324.4" class="ax" textLength="34.6" lengthAdjust="spacingAndGlyphs">Limits</text>
<text transform="rotate(-90)" x="-239" y="10.6" class="ax" style="font-size:12px" textLength="180" lengthAdjust="spacingAndGlyphs">Normalized Cumulative Number</text>
</svg></body></html>
